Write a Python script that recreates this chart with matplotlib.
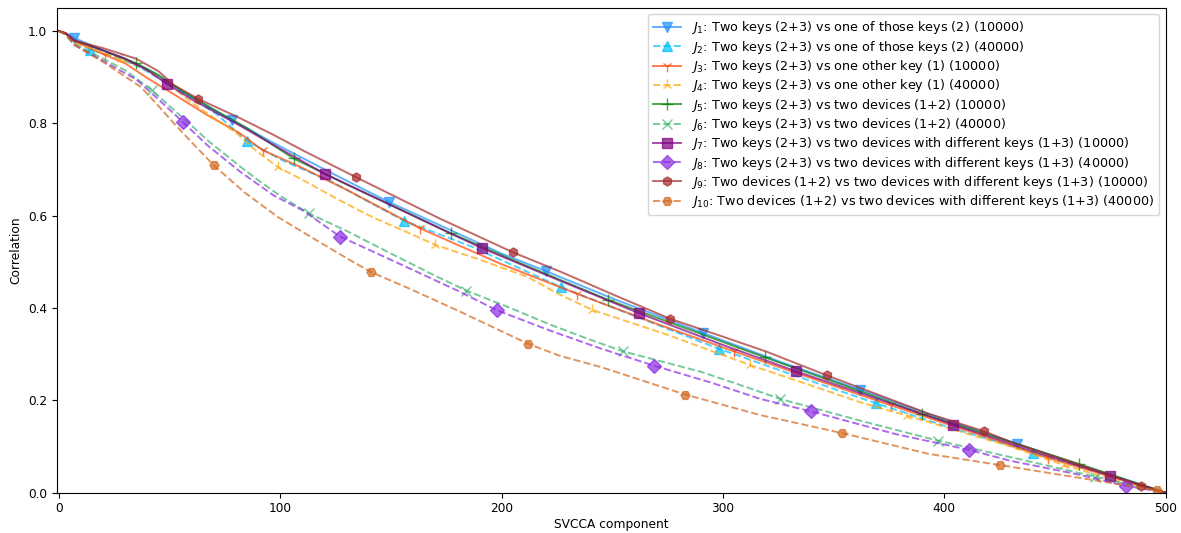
import matplotlib
matplotlib.use("Agg")
import matplotlib.pyplot as plt

# Correlation per SVCCA component for each comparison (component index, value)
j1_x = [0, 3, 7, 20, 30, 40, 50, 60, 78, 100, 125, 149, 175, 200, 220, 250, 291, 325, 362, 400, 433, 465, 500]
j1_y = [1.0, 0.995, 0.985, 0.958, 0.94, 0.917, 0.887, 0.857, 0.807, 0.75, 0.688, 0.630, 0.573, 0.518, 0.480, 0.421, 0.346, 0.285, 0.223, 0.159, 0.106, 0.054, 0.0]

j2_x = [0, 3, 7, 14, 25, 36, 50, 60, 71, 85, 101, 124, 140, 156, 187, 227, 260, 298, 330, 369, 400, 440, 470, 500]
j2_y = [1.0, 0.995, 0.978, 0.960, 0.945, 0.923, 0.885, 0.855, 0.821, 0.762, 0.72, 0.672, 0.63, 0.589, 0.532, 0.445, 0.383, 0.312, 0.258, 0.194, 0.145, 0.087, 0.044, 0.0]

j3_x = [0, 3, 7, 21, 30, 40, 50, 67, 82, 92, 109, 130, 163, 200, 234, 270, 305, 340, 376, 410, 447, 475, 500]
j3_y = [1.0, 0.995, 0.978, 0.948, 0.93, 0.898, 0.869, 0.818, 0.778, 0.742, 0.706, 0.656, 0.573, 0.495, 0.431, 0.366, 0.306, 0.248, 0.189, 0.135, 0.075, 0.035, 0.0]

j4_x = [0, 3, 7, 15, 28, 37, 45, 52, 60, 70, 80, 88, 99, 110, 127, 142, 157, 170, 190, 212, 225, 241, 275, 312, 340, 362, 383, 430, 454, 475, 500]
j4_y = [1.0, 0.995, 0.975, 0.962, 0.94, 0.923, 0.9, 0.876, 0.845, 0.812, 0.78, 0.745, 0.705, 0.678, 0.633, 0.596, 0.565, 0.537, 0.505, 0.467, 0.432, 0.396, 0.342, 0.277, 0.232, 0.196, 0.167, 0.10, 0.06, 0.03, 0.0]

j5_x = [0, 3, 7, 20, 35, 45, 55, 70, 85, 106, 130, 150, 177, 210, 248, 285, 319, 355, 390, 430, 461, 500]
j5_y = [1.0, 0.995, 0.98, 0.958, 0.93, 0.905, 0.872, 0.83, 0.79, 0.724, 0.668, 0.623, 0.562, 0.494, 0.418, 0.353, 0.293, 0.232, 0.171, 0.11, 0.062, 0.0]

j6_x = [0, 3, 7, 20, 30, 42, 52, 60, 67, 82, 90, 100, 113, 130, 150, 170, 184, 203, 222, 238, 255, 290, 305, 326, 362, 397, 430, 468, 500]
j6_y = [1.0, 0.993, 0.972, 0.94, 0.915, 0.872, 0.829, 0.795, 0.764, 0.706, 0.677, 0.643, 0.605, 0.567, 0.518, 0.470, 0.438, 0.402, 0.364, 0.335, 0.306, 0.262, 0.238, 0.203, 0.156, 0.113, 0.077, 0.035, 0.0]

j7_x = [0, 3, 7, 20, 30, 40, 49, 60, 80, 100, 120, 150, 175, 191, 225, 262, 300, 333, 375, 404, 440, 475, 500]
j7_y = [1.0, 0.995, 0.98, 0.958, 0.94, 0.915, 0.885, 0.852, 0.8, 0.745, 0.691, 0.623, 0.566, 0.530, 0.462, 0.389, 0.32, 0.263, 0.195, 0.1475, 0.09, 0.037, 0.0]

j8_x = [0, 3, 7, 20, 35, 45, 56, 67, 82, 97, 110, 127, 157, 180, 198, 222, 245, 269, 295, 317, 340, 378, 411, 430, 460, 482, 500]
j8_y = [1.0, 0.993, 0.97, 0.935, 0.895, 0.852, 0.803, 0.753, 0.695, 0.644, 0.612, 0.555, 0.489, 0.438, 0.395, 0.351, 0.312, 0.275, 0.238, 0.203, 0.176, 0.127, 0.093, 0.069, 0.04, 0.015, 0.0]

j9_x = [0, 3, 7, 20, 35, 45, 52, 63, 82, 97, 110, 134, 172, 205, 227, 250, 276, 300, 320, 347, 393, 418, 430, 460, 489, 500]
j9_y = [1.0, 0.996, 0.979, 0.963, 0.94, 0.913, 0.883, 0.853, 0.811, 0.775, 0.742, 0.684, 0.594, 0.521, 0.478, 0.43, 0.377, 0.338, 0.305, 0.254, 0.171, 0.133, 0.11, 0.062, 0.015, 0.0]

j10_x = [0, 3, 7, 20, 37, 44, 52, 59, 70, 84, 99, 117, 130, 141, 157, 180, 212, 226, 245, 283, 317, 354, 393, 425, 460, 496, 500]
j10_y = [1.0, 0.993, 0.97, 0.933, 0.879, 0.843, 0.80, 0.764, 0.709, 0.65, 0.597, 0.545, 0.508, 0.478, 0.445, 0.395, 0.3225, 0.297, 0.272, 0.2126, 0.168, 0.129, 0.084, 0.06, 0.033, 0.005, 0.0]

labels = [
    r"$J_1$: Two keys (2+3) vs one of those keys (2) (10000)",
    r"$J_2$: Two keys (2+3) vs one of those keys (2) (40000)",
    r"$J_3$: Two keys (2+3) vs one other key (1) (10000)",
    r"$J_4$: Two keys (2+3) vs one other key (1) (40000)",
    r"$J_5$: Two keys (2+3) vs two devices (1+2) (10000)",
    r"$J_6$: Two keys (2+3) vs two devices (1+2) (40000)",
    r"$J_7$: Two keys (2+3) vs two devices with different keys (1+3) (10000)",
    r"$J_8$: Two keys (2+3) vs two devices with different keys (1+3) (40000)",
    r"$J_9$: Two devices (1+2) vs two devices with different keys (1+3) (10000)",
    r"$J_{10}$: Two devices (1+2) vs two devices with different keys (1+3) (40000)",
]

series_x = [j1_x, j2_x, j3_x, j4_x, j5_x, j6_x, j7_x, j8_x, j9_x, j10_x]
series_y = [j1_y, j2_y, j3_y, j4_y, j5_y, j6_y, j7_y, j8_y, j9_y, j10_y]

colors = ["dodgerblue", "deepskyblue", "orangered", "orange", "green",
          "mediumseagreen", "purple", "blueviolet", "brown", "chocolate"]
markers = ["v", "^", "1", "2", "+", "x", "s", "D", "h", "H"]
styles = ["-", "--", "-", "--", "-", "--", "-", "--", "-", "--"]
msizes = [7, 7, 8, 8, 8, 7, 7, 7, 6.5, 6.5]

fig = plt.figure(figsize=(11.81, 5.33), dpi=100)
ax = fig.add_axes([0.048, 0.0756, 0.939, 0.9094])

for k in range(len(series_x)):
    xs, ys = series_x[k], series_y[k]
    # one marker every 71 components, staggered by 7 per series
    marked = set(range(7 * (k + 1), 500, 71))
    every = [i for i, c in enumerate(xs) if c in marked]
    ax.plot(xs, ys, linestyle=styles[k], color=colors[k], alpha=0.7,
            linewidth=1.4, marker=markers[k], markersize=msizes[k],
            markevery=every, label=labels[k])

ax.set_xlim(-1, 500)
ax.set_ylim(0, 1.05)
ax.set_xticks([0, 100, 200, 300, 400, 500])
ax.set_yticks([0.0, 0.2, 0.4, 0.6, 0.8, 1.0])
ax.set_yticklabels(["0.0", "0.2", "0.4", "0.6", "0.8", "1.0"])
ax.tick_params(labelsize=8.7, length=3.5, width=0.8)
ax.set_xlabel("SVCCA component", fontsize=8.8, labelpad=2)
ax.set_ylabel("Correlation", fontsize=8.8, labelpad=4)
ax.legend(loc="upper right", fontsize=9.2, labelspacing=0.18,
          borderaxespad=0.5, handlelength=2.2)

fig.savefig("out.png", dpi=100)
